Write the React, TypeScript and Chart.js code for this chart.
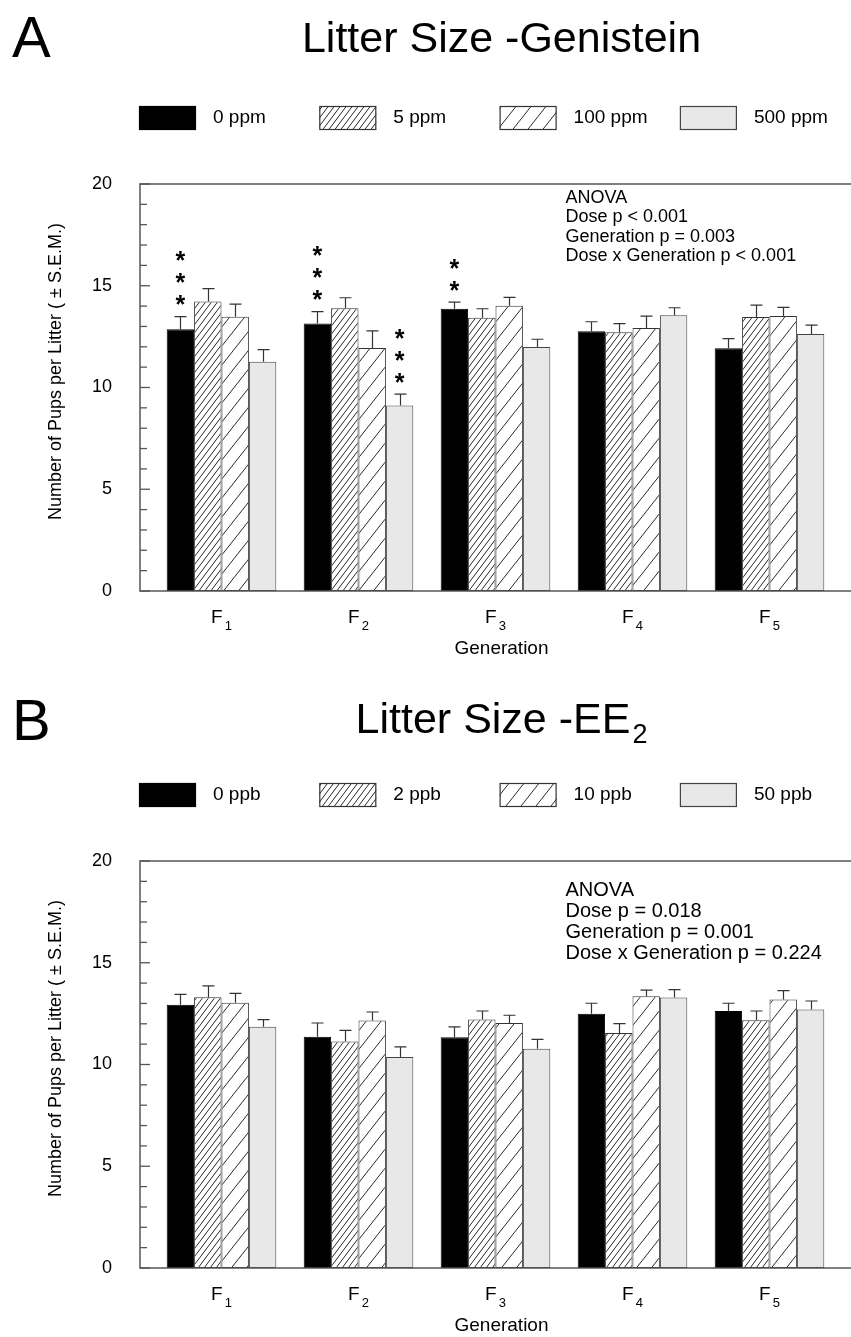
import React, { useEffect, useRef } from "react";
import { Chart, registerables } from "chart.js";

Chart.register(...registerables);

const FONT = "'Liberation Sans', Arial, Helvetica, sans-serif";

// ---- shared axis data ----
const generationIndex = [0, 1, 2, 3, 4];
const generationSubs = ["1", "2", "3", "4", "5"];
const xAxisTitle = "Generation";
const yAxisTitle = "Number of Pups per Litter ( \u00b1 S.E.M.)";
const yMin = 0;
const yMax = 20;
const yMajorStep = 5;
const yMinorStep = 1;

// ---- Panel A: Genistein ----
const genisteinDoses = ["0 ppm", "5 ppm", "100 ppm", "500 ppm"];
const gen0 = [12.86, 13.14, 13.87, 12.76, 11.93];
const gen5 = [14.22, 13.89, 13.43, 12.71, 13.46];
const gen100 = [13.48, 11.94, 14.02, 12.92, 13.51];
const gen500 = [11.27, 9.12, 11.99, 13.55, 12.63];
const gen0Sem = [0.62, 0.59, 0.33, 0.47, 0.47];
const gen5Sem = [0.64, 0.52, 0.44, 0.43, 0.59];
const gen100Sem = [0.62, 0.84, 0.41, 0.59, 0.43];
const gen500Sem = [0.59, 0.55, 0.38, 0.37, 0.44];
const gen0Stars = [3, 3, 2, 0, 0];
const gen5Stars = [0, 0, 0, 0, 0];
const gen100Stars = [0, 0, 0, 0, 0];
const gen500Stars = [0, 3, 0, 0, 0];
const genAnova = [
  "ANOVA",
  "Dose p < 0.001",
  "Generation p = 0.003",
  "Dose x Generation p < 0.001",
];

// ---- Panel B: EE2 ----
const eeDoses = ["0 ppb", "2 ppb", "10 ppb", "50 ppb"];
const ee0 = [12.93, 11.36, 11.34, 12.49, 12.63];
const ee2 = [13.3, 11.13, 12.21, 11.55, 12.17];
const ee10 = [13.04, 12.16, 12.04, 13.35, 13.19];
const ee50 = [11.85, 10.37, 10.77, 13.29, 12.7];
const ee0Sem = [0.52, 0.68, 0.51, 0.52, 0.38];
const ee2Sem = [0.56, 0.55, 0.42, 0.46, 0.46];
const ee10Sem = [0.46, 0.42, 0.38, 0.3, 0.44];
const ee50Sem = [0.36, 0.5, 0.46, 0.39, 0.42];
const eeStars = [0, 0, 0, 0, 0];
const eeAnova = [
  "ANOVA",
  "Dose p = 0.018",
  "Generation p = 0.001",
  "Dose x Generation p = 0.224",
];

type PanelCfg = {
  height: number;
  plotTop: number;
  plotBottom: number;
  letter: string;
  letterBaseline: number;
  title: string;
  titleSub: string;
  titleBaseline: number;
  doses: string[];
  values: number[][];
  sems: number[][];
  stars: number[][];
  legendTop: number;
  anova: string[];
  anovaFont: number;
  anovaTop: number;
  anovaStep: number;
};

const panelA: PanelCfg = {
  height: 668,
  plotTop: 184,
  plotBottom: 591,
  letter: "A",
  letterBaseline: 57,
  title: "Litter Size -Genistein",
  titleSub: "",
  titleBaseline: 52,
  doses: genisteinDoses,
  values: [gen0, gen5, gen100, gen500],
  sems: [gen0Sem, gen5Sem, gen100Sem, gen500Sem],
  stars: [gen0Stars, gen5Stars, gen100Stars, gen500Stars],
  legendTop: 106,
  anova: genAnova,
  anovaFont: 18,
  anovaTop: 198,
  anovaStep: 19.4,
};

const panelB: PanelCfg = {
  height: 669,
  plotTop: 193,
  plotBottom: 600,
  letter: "B",
  letterBaseline: 72,
  title: "Litter Size -EE",
  titleSub: "2",
  titleBaseline: 65,
  doses: eeDoses,
  values: [ee0, ee2, ee10, ee50],
  sems: [ee0Sem, ee2Sem, ee10Sem, ee50Sem],
  stars: [eeStars, eeStars, eeStars, eeStars],
  legendTop: 115,
  anova: eeAnova,
  anovaFont: 20,
  anovaTop: 222,
  anovaStep: 21,
};

function makeHatch(w: number, h: number): CanvasPattern | string {
  const c = document.createElement("canvas");
  c.width = w;
  c.height = h;
  const g = c.getContext("2d");
  if (!g) return "#fff";
  g.fillStyle = "#ffffff";
  g.fillRect(0, 0, w, h);
  g.strokeStyle = "#2a2a2a";
  g.lineWidth = 1;
  for (const off of [-w, 0, w]) {
    g.beginPath();
    g.moveTo(off, h);
    g.lineTo(off + w, 0);
    g.stroke();
  }
  const p = g.createPattern(c, "repeat");
  return p || "#fff";
}

function Panel({ cfg }: { cfg: PanelCfg }) {
  const ref = useRef<HTMLCanvasElement | null>(null);

  useEffect(() => {
    const canvas = ref.current;
    if (!canvas) return;
    const fills: (CanvasPattern | string)[] = [
      "#000000",
      makeHatch(6, 8),
      makeHatch(15, 19),
      "#e8e8e8",
    ];
    const borders = ["#000000", "#333333", "#333333", "#444444"];

    const decor = {
      id: "decor",
      afterDatasetsDraw(chart: any) {
        const ctx: CanvasRenderingContext2D = chart.ctx;
        const ys = chart.scales.y;
        ctx.save();
        ctx.strokeStyle = "#333";
        ctx.lineWidth = 1.2;
        chart.data.datasets.forEach((_ds: any, i: number) => {
          const meta = chart.getDatasetMeta(i);
          meta.data.forEach((el: any, j: number) => {
            const top = ys.getPixelForValue(cfg.values[i][j] + cfg.sems[i][j]);
            const x = Math.round(el.x) + 0.5;
            ctx.beginPath();
            ctx.moveTo(x, el.y);
            ctx.lineTo(x, top);
            ctx.moveTo(x - 6, top);
            ctx.lineTo(x + 6, top);
            ctx.stroke();
            const n = cfg.stars[i][j];
            if (n > 0) {
              ctx.fillStyle = "#000";
              ctx.font = `bold 25px ${FONT}`;
              ctx.textAlign = "center";
              ctx.textBaseline = "alphabetic";
              const m = ctx.measureText("*");
              const asc = m.actualBoundingBoxAscent;
              const desc = m.actualBoundingBoxDescent;
              for (let k = 0; k < n; k++) {
                const cy = top - 16.5 - k * 22;
                ctx.fillText("*", el.x, cy + (asc - desc) / 2);
              }
            }
          });
        });
        ctx.restore();
      },
      afterDraw(chart: any) {
        const ctx: CanvasRenderingContext2D = chart.ctx;
        const ys = chart.scales.y;
        const xs = chart.scales.x;
        const a = chart.chartArea;
        ctx.save();
        // frame (left, top, bottom)
        ctx.strokeStyle = "#555";
        ctx.lineWidth = 1.5;
        ctx.beginPath();
        ctx.moveTo(a.right + 2, a.top);
        ctx.lineTo(a.left, a.top);
        ctx.lineTo(a.left, a.bottom);
        ctx.lineTo(a.right + 2, a.bottom);
        ctx.stroke();
        // inner ticks
        ctx.lineWidth = 1.3;
        for (let v = yMin; v <= yMax; v += yMinorStep) {
          const y = ys.getPixelForValue(v);
          const len = v % yMajorStep === 0 ? 10 : 7;
          ctx.beginPath();
          ctx.moveTo(a.left, y);
          ctx.lineTo(a.left + len, y);
          ctx.stroke();
        }
        ctx.fillStyle = "#000";
        // x labels F with subscript
        generationIndex.forEach((gx, j) => {
          const cx = xs.getPixelForValue(gx);
          ctx.font = `19px ${FONT}`;
          ctx.textAlign = "left";
          ctx.textBaseline = "alphabetic";
          const wF = ctx.measureText("F").width;
          ctx.font = `13px ${FONT}`;
          const wS = ctx.measureText(generationSubs[j]).width;
          const start = cx - (wF + 2 + wS) / 2;
          ctx.font = `19px ${FONT}`;
          ctx.fillText("F", start, a.bottom + 32);
          ctx.font = `13px ${FONT}`;
          ctx.fillText(generationSubs[j], start + wF + 2, a.bottom + 39);
        });
        // x title
        ctx.font = `19px ${FONT}`;
        ctx.textAlign = "center";
        ctx.fillText(xAxisTitle, (a.left + a.right) / 2 + 6, a.bottom + 63);
        // y title
        ctx.save();
        ctx.translate(56, (a.top + a.bottom) / 2 - 16);
        ctx.rotate(-Math.PI / 2);
        ctx.font = `18px ${FONT}`;
        ctx.textAlign = "center";
        ctx.textBaseline = "middle";
        ctx.fillText(yAxisTitle, 0, 0);
        ctx.restore();
        // panel letter
        ctx.font = `58px ${FONT}`;
        ctx.textAlign = "left";
        ctx.textBaseline = "alphabetic";
        ctx.fillText(cfg.letter, 12, cfg.letterBaseline);
        // title
        ctx.font = `43px ${FONT}`;
        const wT = ctx.measureText(cfg.title).width;
        ctx.font = `27px ${FONT}`;
        const wSub = cfg.titleSub ? ctx.measureText(cfg.titleSub).width + 2 : 0;
        const tx = 501.5 - (wT + wSub) / 2;
        ctx.font = `43px ${FONT}`;
        ctx.fillText(cfg.title, tx, cfg.titleBaseline);
        if (cfg.titleSub) {
          ctx.font = `27px ${FONT}`;
          ctx.fillText(cfg.titleSub, tx + wT + 2, cfg.titleBaseline + 10);
        }
        // legend
        chart.data.datasets.forEach((ds: any, i: number) => {
          const bx = 139 + i * 180.3;
          const by = cfg.legendTop;
          ctx.fillStyle = ds.backgroundColor;
          ctx.fillRect(bx, by, 57, 24);
          ctx.strokeStyle = ds.borderColor;
          ctx.lineWidth = 1.2;
          ctx.strokeRect(bx + 0.5, by + 0.5, 56, 23);
          ctx.fillStyle = "#000";
          ctx.font = `19px ${FONT}`;
          ctx.textAlign = "left";
          ctx.textBaseline = "middle";
          ctx.fillText(ds.label, bx + 74, by + 12);
        });
        // anova
        ctx.fillStyle = "#000";
        ctx.font = `${cfg.anovaFont}px ${FONT}`;
        ctx.textAlign = "left";
        ctx.textBaseline = "middle";
        cfg.anova.forEach((line, k) => {
          ctx.fillText(line, 565.5, cfg.anovaTop + k * cfg.anovaStep);
        });
        ctx.restore();
      },
    };

    const chart = new Chart(canvas, {
      type: "bar",
      data: {
        datasets: cfg.doses.map((d, i) => ({
          label: d,
          data: generationIndex.map((x, j) => ({ x, y: cfg.values[i][j] })),
          backgroundColor: fills[i] as any,
          borderColor: borders[i],
          borderWidth: 1,
          borderSkipped: false,
          categoryPercentage: 0.8,
          barPercentage: 1.0,
        })),
      },
      options: {
        responsive: false,
        animation: false,
        devicePixelRatio: 1,
        layout: {
          padding: {
            left: 0,
            right: 0,
            top: cfg.plotTop,
            bottom: cfg.height - cfg.plotBottom,
          },
        },
        plugins: {
          legend: { display: false },
          tooltip: { enabled: false },
          title: { display: false },
        },
        scales: {
          x: {
            type: "linear",
            display: false,
            offset: false,
            min: -0.5949,
            max: 4.5949,
            ticks: { stepSize: 1, includeBounds: false },
          },
          y: {
            type: "linear",
            position: "left",
            min: yMin,
            max: yMax,
            grid: { display: false },
            border: { display: false },
            ticks: {
              stepSize: yMajorStep,
              padding: 20,
              color: "#000",
              font: { family: FONT, size: 18 },
            },
            afterFit: (s: any) => {
              s.width = 140;
            },
          },
        },
      } as any,
      plugins: [decor],
    });
    return () => chart.destroy();
  }, [cfg]);

  return (
    <canvas
      ref={ref}
      width={851}
      height={cfg.height}
      style={{ display: "block", width: 851, height: cfg.height }}
    />
  );
}

export default function App() {
  useEffect(() => {
    document.body.style.margin = "0";
    document.body.style.background = "#fff";
  }, []);
  return (
    <div style={{ width: 851, height: 1337, background: "#fff", overflow: "hidden" }}>
      <Panel cfg={panelA} />
      <Panel cfg={panelB} />
    </div>
  );
}
